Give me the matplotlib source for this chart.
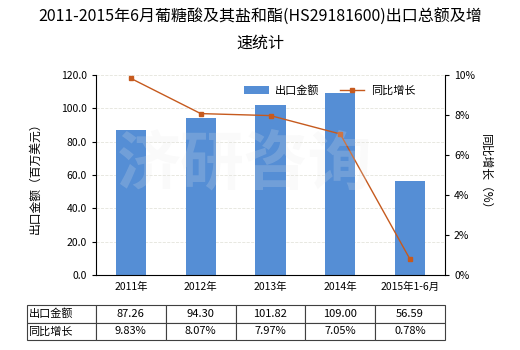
import numpy as np
import matplotlib
matplotlib.use('Agg')
from matplotlib import pyplot as plt
from matplotlib.ticker import FuncFormatter

plt.rcParams['font.family'] = ['Noto Sans CJK SC', 'DejaVu Sans']
plt.rcParams['axes.unicode_minus'] = False

years = ['2011年', '2012年', '2013年', '2014年', '2015年1-6月']
amount = [87.26, 94.30, 101.82, 109.00, 56.59]
growth = [9.83, 8.07, 7.97, 7.05, 0.78]
row_names = ['出口金额', '同比增长']

bar_color = '#558ed5'
line_color = '#c65a1e'

fig = plt.figure(figsize=(5.2, 3.5), dpi=100)
ax = fig.add_axes([96 / 520, 1 - 275 / 350, 349 / 520, 200 / 350])
x = np.arange(len(years))

ax.bar(x, amount, width=0.43, color=bar_color, label='出口金额', zorder=2)
ax.set_xlim(-0.5, len(years) - 0.5)
ax.set_ylim(0, 120)
ax.set_yticks(np.arange(0, 121, 20))
ax.yaxis.set_major_formatter(FuncFormatter(lambda v, p: f'{v:.1f}'))
ax.set_xticks(x)
ax.set_xticklabels(years, fontsize=7.5)
ax.tick_params(axis='y', labelsize=7.5, length=3)
ax.tick_params(axis='x', length=0, pad=5)
ax.grid(axis='y', color='#e4e4dc', linestyle='--', linewidth=0.6, zorder=0)
for s in ['top', 'right']:
    ax.spines[s].set_visible(False)
ax.set_ylabel('出口金额（百万美元）', fontsize=8.5, labelpad=14)

ax2 = ax.twinx()
ax2.plot(x, growth, color=line_color, linewidth=1.0, marker='s', markersize=3.5,
         markerfacecolor=line_color, markeredgecolor=line_color, label='同比增长', zorder=3)
ax2.set_ylim(0, 10)
ax2.set_yticks(np.arange(0, 11, 2))
ax2.yaxis.set_major_formatter(FuncFormatter(lambda v, p: f'{v:.0f}%'))
ax2.tick_params(axis='y', labelsize=7.5, length=3)
for s in ['top', 'left', 'bottom']:
    ax2.spines[s].set_visible(False)
ax2.set_ylabel('同比增长（%）', fontsize=8.5, rotation=-90, labelpad=12)

# faint watermark
fig.text(0.47, 0.53, '济研咨询', fontsize=46, color='#e6e6e6', alpha=0.2,
         ha='center', va='center', fontweight='bold', zorder=10)

h1, l1 = ax.get_legend_handles_labels()
h2, l2 = ax2.get_legend_handles_labels()
ax2.legend(h1 + h2, l1 + l2, loc='upper center', bbox_to_anchor=(0.67, 1.0), ncol=2,
           frameon=False, fontsize=8, handlelength=2.2, columnspacing=1.8,
           handletextpad=0.6)

fig.text(0.5, 0.95, '2011-2015年6月葡糖酸及其盐和酯(HS29181600)出口总额及增', fontsize=11.5,
         ha='center', va='center')
fig.text(0.5, 0.877, '速统计', fontsize=11.5, ha='center', va='center')

cells = [[f'{v:.2f}' for v in amount], [f'{v:.2f}%' for v in growth]]
cell_text = [[row_names[i]] + cells[i] for i in range(2)]
tbl = ax.table(cellText=cell_text, cellLoc='center',
               bbox=[-69 / 349, -65 / 200, 418 / 349, 35 / 200],
               colWidths=[69] + [70] * 5)
tbl.auto_set_font_size(False)
tbl.set_fontsize(8)
for (r, c), cell in tbl.get_celld().items():
    cell.set_edgecolor('#404040')
    cell.set_linewidth(0.8)
    if c == 0:
        cell.set_text_props(ha='left')
        cell.PAD = 0.02

fig.savefig('out.png', dpi=100)
